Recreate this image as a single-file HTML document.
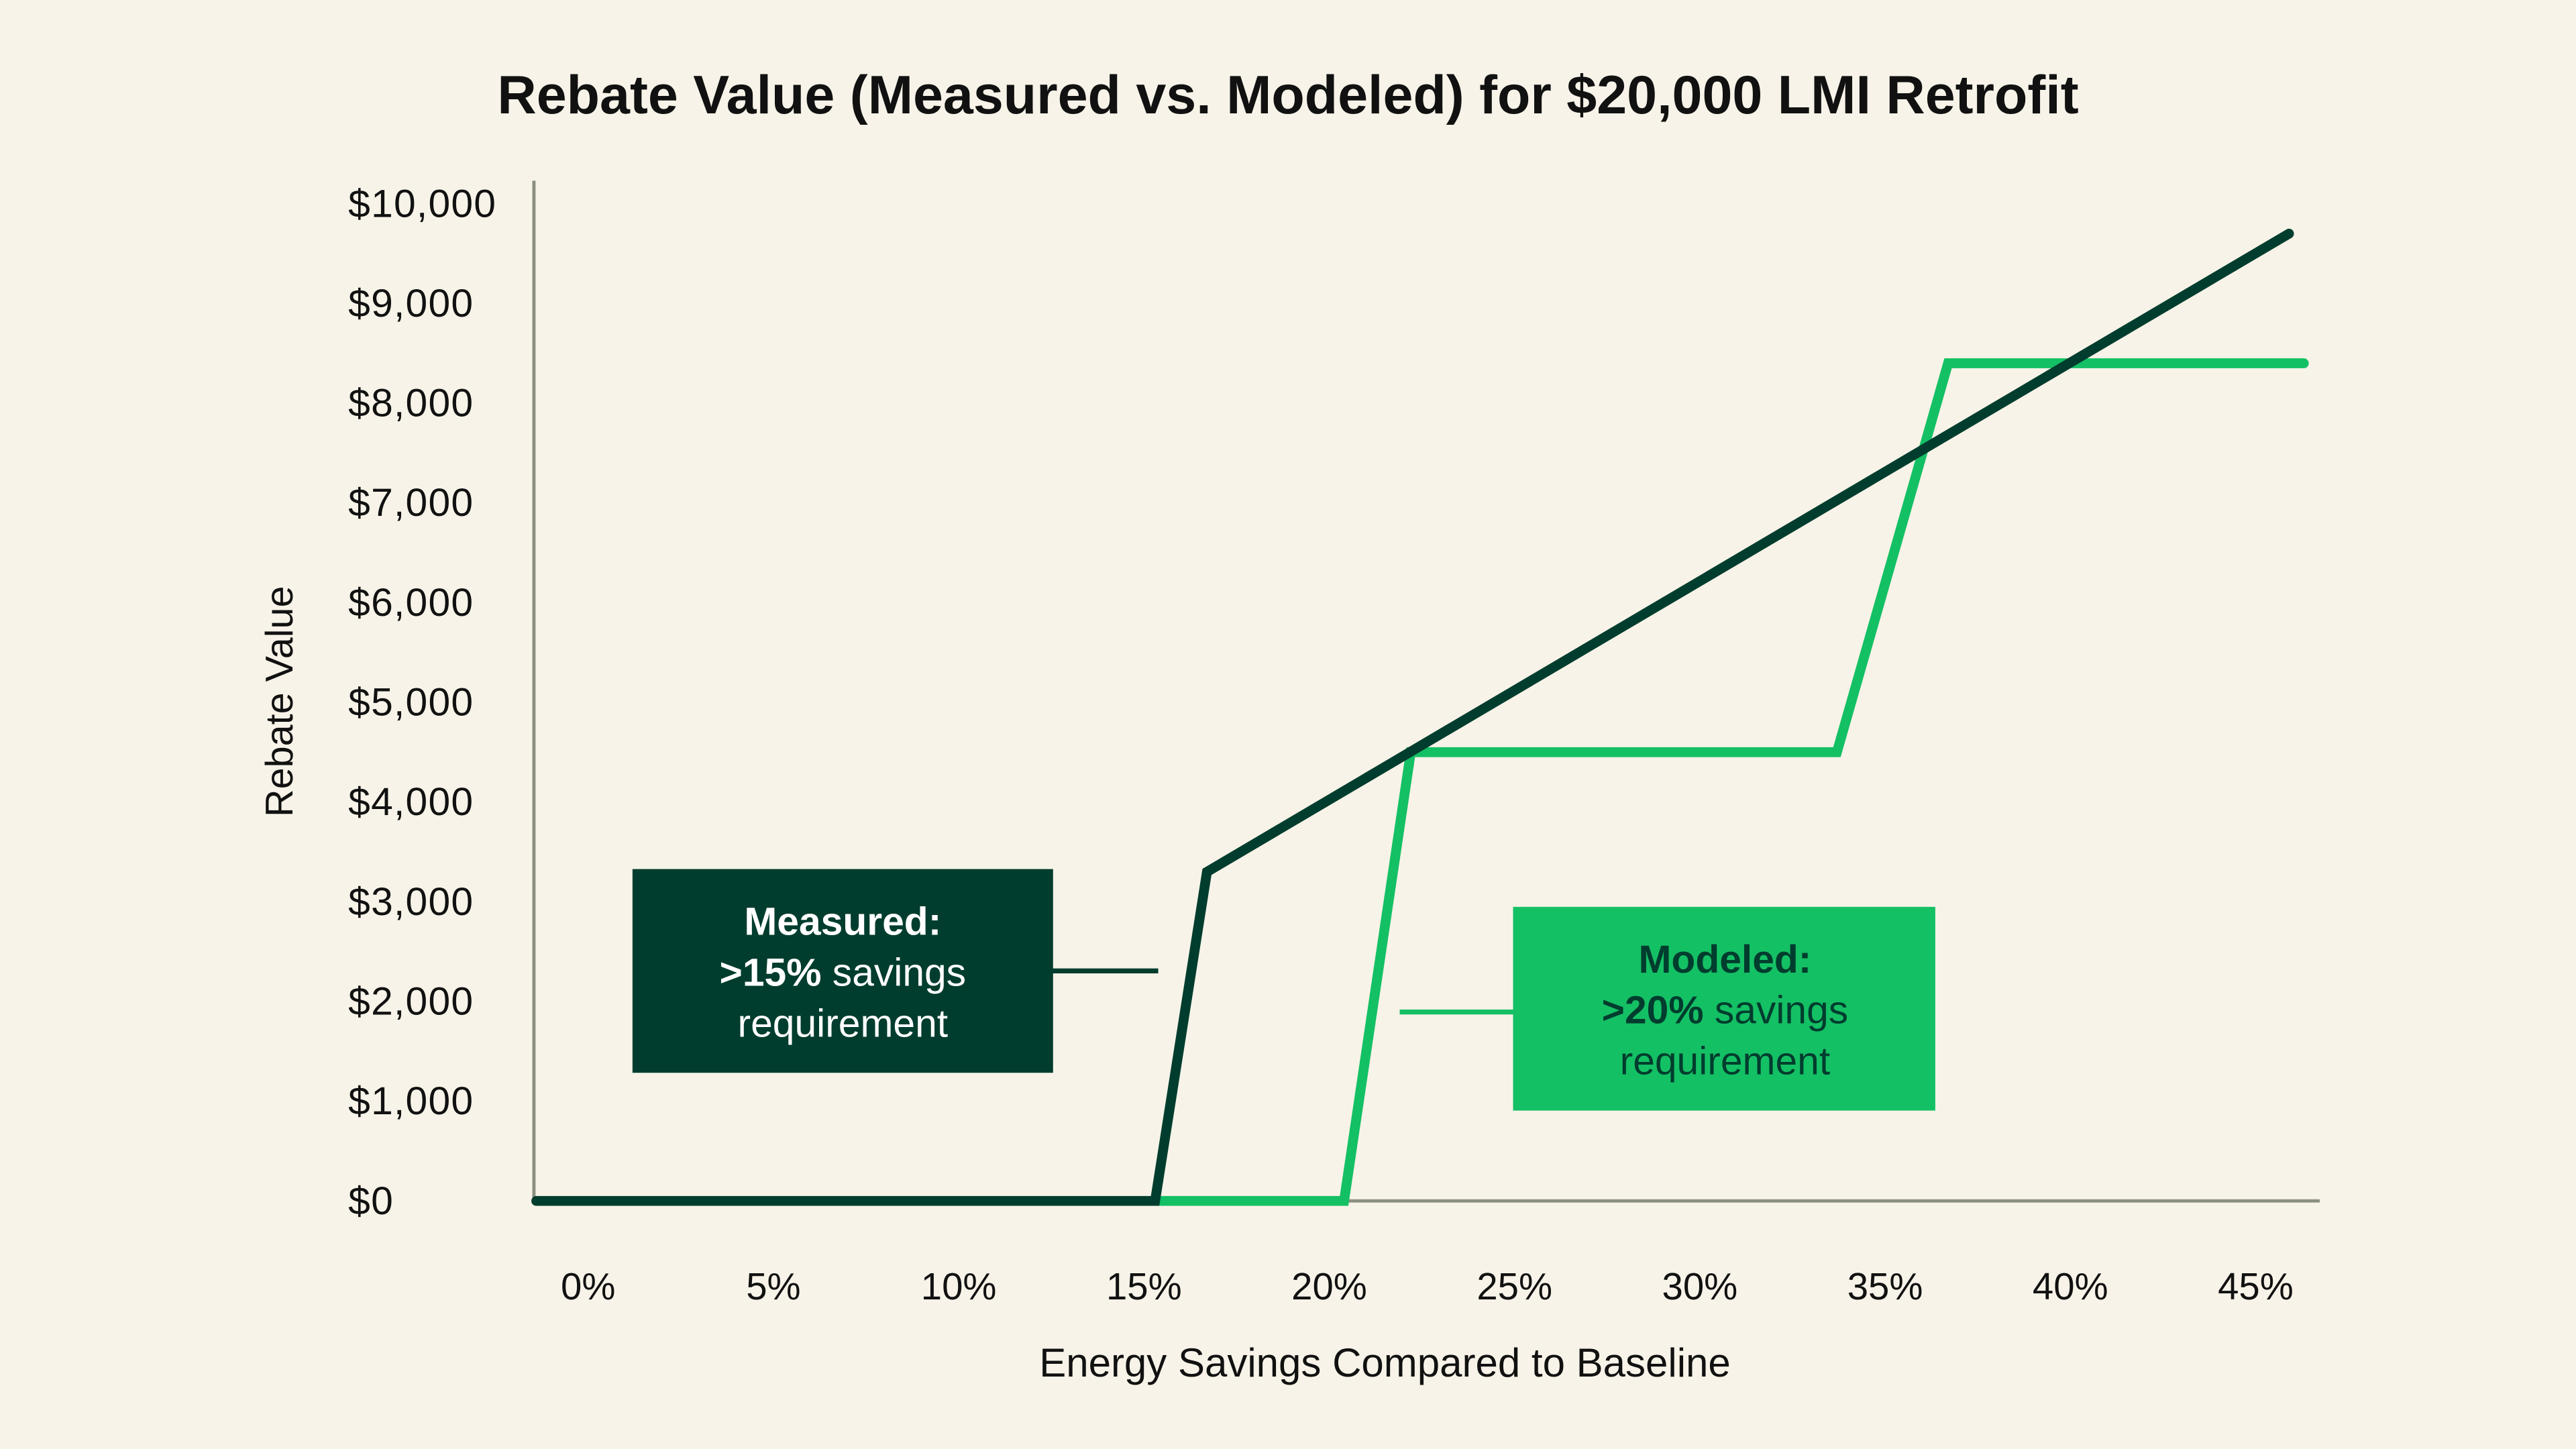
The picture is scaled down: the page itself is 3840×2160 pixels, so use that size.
<!DOCTYPE html>
<html><head><meta charset="utf-8"><style>
html,body{margin:0;padding:0;background:#f7f3e8;}
svg{display:block;font-family:"Liberation Sans",sans-serif;}
</style></head><body>
<svg id="chart" width="3840" height="2160" viewBox="0 0 1568 882" xmlns="http://www.w3.org/2000/svg">
<rect width="1568" height="882" fill="#f7f3e8"/>
<text x="784" y="69" text-anchor="middle" font-size="33" font-weight="bold" fill="#111">Rebate Value (Measured vs. Modeled) for $20,000 LMI Retrofit</text>
<text transform="translate(178,427) rotate(-90)" text-anchor="middle" font-size="23.5" fill="#111">Rebate Value</text>
<text x="843" y="838" text-anchor="middle" font-size="24.5" fill="#111">Energy Savings Compared to Baseline</text>
<g id="yticks"></g><g id="xticks"></g>
<line x1="325" y1="110" x2="325" y2="731" stroke="#8a8f80" stroke-width="2"/>
<line x1="325" y1="731" x2="1412" y2="731" stroke="#8a8f80" stroke-width="2"/>
<g id="lines"></g>
<line x1="640" y1="591" x2="705" y2="591" stroke="#003d2e" stroke-width="3"/>
<rect x="385" y="529" width="256" height="124" fill="#003d2e"/>
<text x="513" y="569" text-anchor="middle" font-size="24" fill="#fff"><tspan font-weight="bold">Measured:</tspan><tspan x="513" dy="31"><tspan font-weight="bold">&gt;15%</tspan> savings</tspan><tspan x="513" dy="31">requirement</tspan></text>
<line x1="852" y1="616" x2="921" y2="616" stroke="#14c064" stroke-width="3"/>
<rect x="921" y="552" width="257" height="124" fill="#14c064"/>
<text x="1050" y="592" text-anchor="middle" font-size="24" fill="#003d2e"><tspan font-weight="bold">Modeled:</tspan><tspan x="1050" dy="31"><tspan font-weight="bold">&gt;20%</tspan> savings</tspan><tspan x="1050" dy="31">requirement</tspan></text>
</svg>
<script>
const yTickValues=[0,1000,2000,3000,4000,5000,6000,7000,8000,9000,10000];
const yTickLabels=["$0","$1,000","$2,000","$3,000","$4,000","$5,000","$6,000","$7,000","$8,000","$9,000","$10,000"];
const xTickValues=[0,5,10,15,20,25,30,35,40,45];
const xTickLabels=["0%","5%","10%","15%","20%","25%","30%","35%","40%","45%"];
const measuredX=[-1.4,15.3,16.7,45.9];
const measuredY=[0,0,3300,9700];
const modeledX=[15.3,20.4,22.2,33.7,36.7,46.3];
const modeledY=[0,0,4500,4500,8400,8400];
const NS="http://www.w3.org/2000/svg";
const xs=v=>358+v*(1373-358)/45;
const ys=v=>731-v*(731-124)/10000;
const yt=document.getElementById('yticks');
yTickValues.forEach((v,i)=>{const t=document.createElementNS(NS,'text');
t.setAttribute('x',212);t.setAttribute('y',ys(v)+8);t.setAttribute('text-anchor','start');t.setAttribute('font-size','24');t.setAttribute('fill','#111');t.setAttribute('letter-spacing','0.5');


t.textContent=yTickLabels[i];yt.appendChild(t);});
const xt=document.getElementById('xticks');
xTickValues.forEach((v,i)=>{const t=document.createElementNS(NS,'text');
t.setAttribute('x',xs(v));t.setAttribute('y',791);t.setAttribute('text-anchor','middle');t.setAttribute('font-size','23');t.setAttribute('fill','#111');


t.textContent=xTickLabels[i];xt.appendChild(t);});
const lg=document.getElementById('lines');
function draw(X,Y,color,name){const p=document.createElementNS(NS,'polyline');
p.setAttribute('points',X.map((x,i)=>xs(x)+','+ys(Y[i])).join(' '));
p.setAttribute('fill','none');p.setAttribute('stroke',color);p.setAttribute('stroke-width','6');p.setAttribute('stroke-linejoin','miter');p.setAttribute('stroke-linecap','round');


lg.appendChild(p);}
draw(modeledX,modeledY,'#14c064','modeled-line');
draw(measuredX,measuredY,'#003d2e','measured-line');
</script>
</body></html>
